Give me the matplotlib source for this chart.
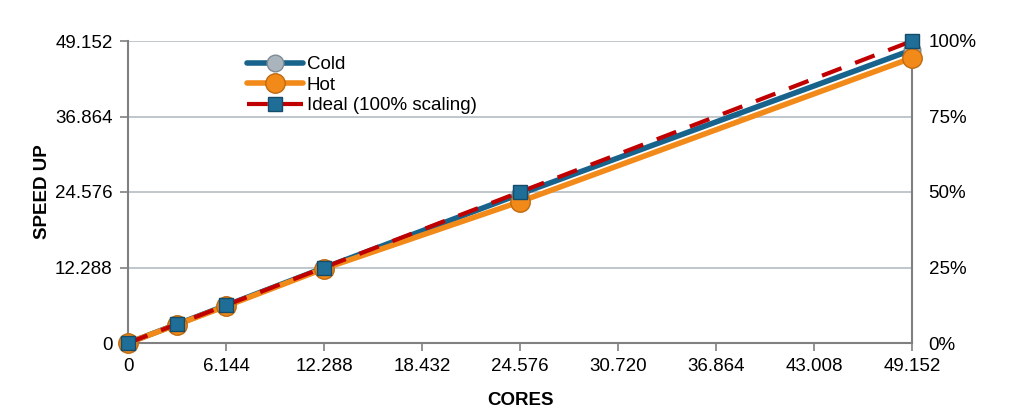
import matplotlib
matplotlib.use("Agg")
import matplotlib.pyplot as plt
from matplotlib.ticker import FuncFormatter, FixedLocator

plt.rcParams['font.family'] = ['Liberation Sans', 'DejaVu Sans']

cores = [0, 3072, 6144, 12288, 24576, 49152]
cold = [0, 3060, 6110, 12230, 24250, 47700]
hot = [0, 3000, 6000, 12100, 23000, 46400]
ideal = [0, 3072, 6144, 12288, 24576, 49152]

xticks = [0, 6144, 12288, 18432, 24576, 30720, 36864, 43008, 49152]
yticks = [0, 12288, 24576, 36864, 49152]
pct_ticks = [0, 25, 50, 75, 100]

def dotfmt(v, pos):
    return f"{int(round(v)):,}".replace(",", ".")

FS = 13.5
fig = plt.figure(figsize=(10.14, 4.2), dpi=100)
ax = fig.add_axes([128/1014, 1-343/420, (912-128)/1014, (343-41)/420])

grid_c = '#b4bcc4'
spine_c = '#808080'

ax.plot(cores, cold, color='#17638c', lw=4, marker='o', ms=12,
        mfc='#aab4bc', mec='#7f8a94', mew=1, label='Cold', zorder=3, solid_capstyle='round')
ax.plot(cores, hot, color='#f28a1a', lw=4, marker='o', ms=14,
        mfc='#f28a1a', mec='#c06a10', mew=1, label='Hot', zorder=4, solid_capstyle='round')
ax.plot(cores, ideal, color='#c00000', lw=3, ls=(0, (5, 3.5)), marker='s', ms=10,
        mfc='#1f6e98', mec='#144c6a', mew=1, label='Ideal (100% scaling)', zorder=5)

ax.set_xlim(0, 49152)
ax.set_ylim(0, 49152)
ax.xaxis.set_major_locator(FixedLocator(xticks))
ax.yaxis.set_major_locator(FixedLocator(yticks))
ax.xaxis.set_major_formatter(FuncFormatter(dotfmt))
ax.yaxis.set_major_formatter(FuncFormatter(dotfmt))
ax.grid(axis='y', color=grid_c, lw=1.2, zorder=0)
ax.set_axisbelow(True)
ax.spines['top'].set_visible(False)
for s in ['left', 'bottom', 'right']:
    ax.spines[s].set_color(spine_c)
    ax.spines[s].set_linewidth(1.5)
ax.tick_params(axis='both', direction='out', color=spine_c, width=1.2, length=6,
               labelsize=FS, labelcolor='black')
ax.tick_params(axis='x', pad=5)
ax.tick_params(axis='y', pad=5)

ax.set_xlabel('CORES', fontsize=FS, fontweight='bold', labelpad=12)
ax.set_ylabel('SPEED UP', fontsize=FS, fontweight='bold', labelpad=3)

ax2 = ax.twinx()
ax2.set_ylim(0, 100)
ax2.yaxis.set_major_locator(FixedLocator(pct_ticks))
ax2.yaxis.set_major_formatter(FuncFormatter(lambda v, p: f"{int(v)}%"))
ax2.tick_params(axis='y', length=0, labelsize=FS, pad=12)
for s in ax2.spines.values():
    s.set_visible(False)

for line in ax.lines:
    line.set_clip_on(False)

leg = ax.legend(loc='upper left', bbox_to_anchor=(0.142, 0.975), frameon=False,
                fontsize=FS, handlelength=3.0, handletextpad=0.2, labelspacing=0.18,
                borderaxespad=0)

fig.savefig('out.png', dpi=100)
